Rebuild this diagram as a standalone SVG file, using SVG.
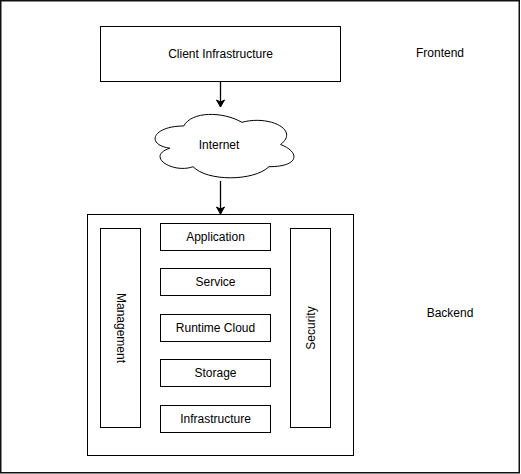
<svg xmlns="http://www.w3.org/2000/svg" width="521" height="474" viewBox="0 0 521 474">
<defs>
<marker id="arr" markerWidth="10" markerHeight="10" refX="8" refY="5" orient="auto" markerUnits="userSpaceOnUse">
<path d="M1,1 L8,5 L1,9 L3,5 Z" fill="#000" stroke="#000" stroke-width="1"/>
</marker>
</defs>
<style>
.box{fill:#fff;stroke:#000;stroke-width:1}
.t{font-family:"Liberation Sans",Arial,sans-serif;font-size:12px;fill:#000;text-anchor:middle;dominant-baseline:central}
.edge{stroke:#000;stroke-width:1.3;fill:none}
</style>
<rect x="0" y="0" width="521" height="474" fill="#fff"/>
<rect x="0.75" y="0.75" width="518.5" height="472" fill="none" stroke="#111" stroke-width="1.5"/>
<g id="client">
<rect class="box" x="100.5" y="26.5" width="240" height="55"/>
<text class="t" x="220.5" y="54">Client Infrastructure</text>
</g>
<g id="frontend-label">
<text class="t" x="440" y="53">Frontend</text>
</g>
<g id="internet">
<path class="box" d="M183.75,126 C152.75,126 145,144.5 169.8,148.2 C145,156.3 172.9,174 193.05,166.7 C207,181.5 253.5,181.5 269,166.7 C300,166.7 300,151.9 280.6,144.5 C300,129.7 269,114.9 241.9,122.3 C222.5,111.2 191.5,111.2 183.75,126 Z"/>
<text class="t" x="219" y="145">Internet</text>
</g>
<g id="backend">
<rect class="box" x="87.5" y="214.5" width="266" height="241"/>
</g>
<g id="management">
<rect class="box" x="100.5" y="228.5" width="40" height="199"/>
<text class="t" transform="translate(120.5,328) rotate(90)">Management</text>
</g>
<g id="security">
<rect class="box" x="290.5" y="228.5" width="40" height="199"/>
<text class="t" transform="translate(310.5,328) rotate(-90)">Security</text>
</g>
<g id="application">
<rect class="box" x="160.5" y="223.5" width="110" height="27"/>
<text class="t" x="215.5" y="237">Application</text>
</g>
<g id="service">
<rect class="box" x="160.5" y="268.5" width="110" height="27"/>
<text class="t" x="215.5" y="282">Service</text>
</g>
<g id="runtime">
<rect class="box" x="160.5" y="314.5" width="110" height="27"/>
<text class="t" x="215.5" y="328">Runtime Cloud</text>
</g>
<g id="storage">
<rect class="box" x="160.5" y="359.5" width="110" height="27"/>
<text class="t" x="215.5" y="373">Storage</text>
</g>
<g id="infrastructure">
<rect class="box" x="160.5" y="405.5" width="110" height="27"/>
<text class="t" x="215.5" y="419">Infrastructure</text>
</g>
<g id="backend-label">
<text class="t" x="450" y="313">Backend</text>
</g>
<g id="connectors">
<line class="edge" x1="220.5" y1="82" x2="220.5" y2="107" marker-end="url(#arr)"/>
<line class="edge" x1="220.5" y1="181" x2="220.5" y2="214" marker-end="url(#arr)"/>
</g>
</svg>
